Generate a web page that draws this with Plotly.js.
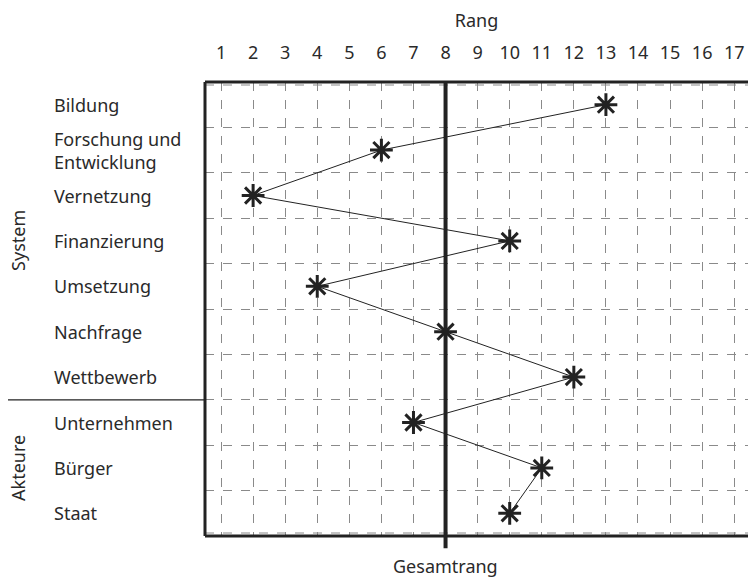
<!DOCTYPE html>
<html><head><meta charset="utf-8">
<script src="https://cdn.plot.ly/plotly-3.0.1.min.js"></script>
<style>html,body{margin:0;padding:0;background:#fff;}#chart{width:748px;height:577px;}</style>
</head><body><div id="chart"></div>
<script>
const categories = ["Bildung", "Forschung und<br>Entwicklung", "Vernetzung", "Finanzierung", "Umsetzung", "Nachfrage", "Wettbewerb", "Unternehmen", "Bürger", "Staat"];
const ranks = [13, 6, 2, 10, 4, 8, 12, 7, 11, 10];
const rankTicks = [1,2,3,4,5,6,7,8,9,10,11,12,13,14,15,16,17];
const groups = ["System", "Akteure"];
const groupRanges = [[1, 7], [8, 10]];
const overallRank = 8;

const rowPos = categories.map((c, i) => i + 1);
const FONT = "Noto Sans, sans-serif";
const TXT = "#2a2a2a";
const W = 748, H = 577, ML = 205, MR = 0, MT = 82, MB = 41;
const pw = W - ML - MR, ph = H - MT - MB;
function px2paper(px) { return (px - ML) / pw; }
const annotations = categories.map((c, i) => ({
  x: px2paper(52), xref: "paper", xanchor: "left", y: rowPos[i], yref: "y", yanchor: "middle",
  text: c, showarrow: false, align: "left", font: {family: FONT, size: 18, color: TXT}
}));
groups.forEach((g, i) => {
  const mid = (groupRanges[i][0] + groupRanges[i][1]) / 2;
  annotations.push({x: px2paper(18), xref: "paper", y: mid, yref: "y", text: g, textangle: -90,
    showarrow: false, xanchor: "center", yanchor: "middle", font: {family: FONT, size: 18, color: TXT}});
});
annotations.push({x: overallRank, xref: "x", y: 0, yref: "paper", yshift: -16, yanchor: "top", text: "Gesamtrang",
  showarrow: false, font: {family: FONT, size: 18, color: TXT}});

const gridY = [];
for (let i = 0; i <= categories.length; i++) gridY.push(i + 0.5);

const d = 3 / ph;
const shapes = [
  {type: "line", xref: "paper", yref: "paper", x0: 0, x1: 1, y0: 1 - d, y1: 1 - d, line: {color: "#8a8a8a", width: 1, dash: "dash"}},
  {type: "line", xref: "paper", yref: "paper", x0: 0, x1: 1, y0: d, y1: d, line: {color: "#8a8a8a", width: 1, dash: "dash"}},
  {type: "line", xref: "paper", yref: "paper", x0: 0, x1: 0, y0: 0, y1: 1, line: {color: "#222", width: 3}},
  {type: "line", xref: "paper", yref: "paper", x0: 0, x1: 1, y0: 1, y1: 1, line: {color: "#222", width: 3}},
  {type: "line", xref: "paper", yref: "paper", x0: 0, x1: 1, y0: 0, y1: 0, line: {color: "#222", width: 3}},
  {type: "line", xref: "x", yref: "paper", x0: overallRank, x1: overallRank, y0: -0.027, y1: 1, line: {color: "#222", width: 4}},
  {type: "line", xref: "paper", yref: "y", x0: px2paper(8), x1: 0, y0: groupRanges[0][1] + 0.5, y1: groupRanges[0][1] + 0.5, line: {color: "#222", width: 1.2}}
];

const trace = {
  x: ranks, y: rowPos, type: "scatter", mode: "lines+markers",
  line: {color: "#222", width: 1},
  marker: {symbol: "asterisk-open", size: 19, color: "#222", line: {color: "#222", width: 3}},
  hoverinfo: "skip", cliponaxis: false
};

const layout = {
  width: W, height: H, margin: {l: ML, r: MR, t: MT, b: MB},
  paper_bgcolor: "#fff", plot_bgcolor: "#fff", showlegend: false,
  xaxis: {range: [0.5, 17.43], side: "top", tickvals: rankTicks, ticktext: rankTicks.map(String),
    showgrid: true, gridcolor: "#8a8a8a", griddash: "dash", gridwidth: 1, zeroline: false, showline: false,
    ticks: "", ticklabelstandoff: 18, tickfont: {family: FONT, size: 18, color: TXT}, fixedrange: true,
    title: {text: "Rang", standoff: 8, font: {family: FONT, size: 18, color: TXT}}},
  yaxis: {range: [10.5, 0.5], tickvals: gridY, showticklabels: false, showgrid: true,
    gridcolor: "#8a8a8a", griddash: "dash", gridwidth: 1, zeroline: false, showline: false, ticks: "", fixedrange: true},
  annotations: annotations, shapes: shapes
};
Plotly.newPlot("chart", [trace], layout, {displayModeBar: false, staticPlot: true});
</script></body></html>
